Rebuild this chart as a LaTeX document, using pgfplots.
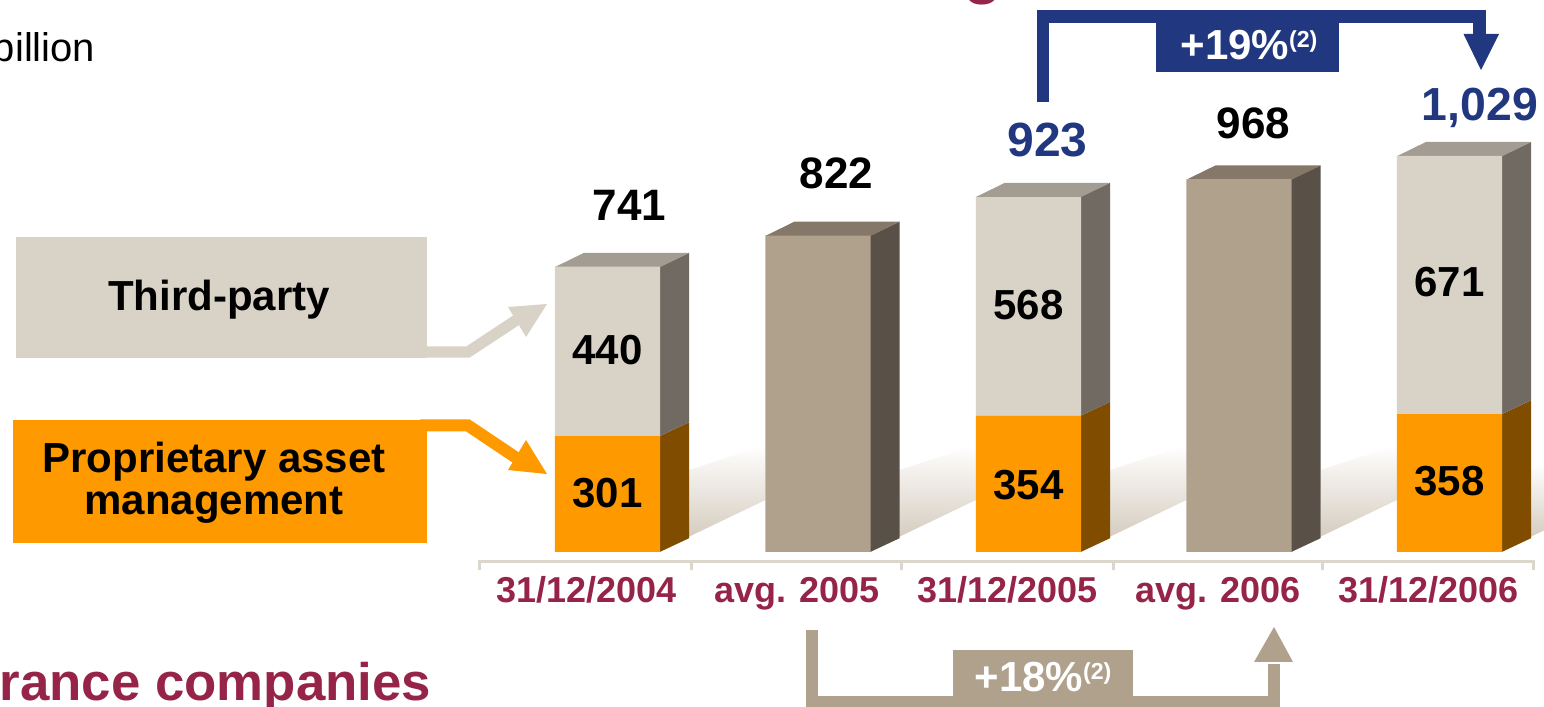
\documentclass[border=0pt]{standalone}
\usepackage{fontspec}
\setmainfont{Liberation Sans}
\usepackage{pgfplots}
\pgfplotsset{compat=1.18}
\definecolor{orangeF}{RGB}{255,153,0}
\definecolor{orangeS}{RGB}{128,77,0}
\definecolor{beigeF}{RGB}{217,210,198}
\definecolor{beigeS}{RGB}{112,106,99}
\definecolor{beigeT}{RGB}{163,156,146}
\definecolor{taupeF}{RGB}{176,161,141}
\definecolor{taupeS}{RGB}{89,80,71}
\definecolor{taupeT}{RGB}{133,120,104}
\definecolor{navy}{RGB}{33,56,128}
\definecolor{wine}{RGB}{150,36,72}
\definecolor{axisc}{RGB}{221,214,203}
\definecolor{shadowc}{RGB}{214,205,192}
\pgfplotsset{base/.style={width=386pt,height=176.75pt,scale only axis,
  xmin=-2.886,xmax=4.4489,ymin=-402.6,ymax=1433.77,hide axis,clip=false,
  at={(0pt,0pt)},anchor=south west,no markers}}
\newcommand\fs[1]{\fontsize{#1}{#1}\selectfont\bfseries}
\newcommand\supnote{\raisebox{3.1pt}{\fontsize{5.8}{5.8}\selectfont(2)}}
\begin{document}
\begin{tikzpicture}
% ---------- background: shadows, 3D faces, baseline ----------
\begin{axis}[base]
\addplot[draw=none,top color=white,bottom color=shadowc] coordinates {(0.388,40)(0.75,135)(0.75,278)(0.388,213)};
\addplot[draw=none,top color=white,bottom color=shadowc] coordinates {(1.388,40)(1.75,135)(1.75,278)(1.388,213)};
\addplot[draw=none,top color=white,bottom color=shadowc] coordinates {(2.388,40)(2.75,135)(2.75,278)(2.388,213)};
\addplot[draw=none,top color=white,bottom color=shadowc] coordinates {(3.388,40)(3.75,135)(3.75,278)(3.388,213)};
\addplot[draw=none,top color=white,bottom color=shadowc] coordinates {(4.388,40)(4.449,56)(4.449,229)(4.388,213)};
% bar 0
\addplot[draw=none,fill=orangeS] coordinates {(0.248,0)(0.388,36)(0.388,337)(0.248,301)};
\addplot[draw=none,fill=beigeS] coordinates {(0.248,301)(0.388,337)(0.388,777)(0.248,741)};
\addplot[draw=none,fill=beigeT] coordinates {(-0.25,740)(0.25,740)(0.388,777)(-0.112,777)};
% bar 1
\addplot[draw=none,fill=taupeS] coordinates {(1.248,0)(1.388,36)(1.388,858)(1.248,822)};
\addplot[draw=none,fill=taupeT] coordinates {(0.75,821)(1.25,821)(1.388,858)(0.888,858)};
% bar 2
\addplot[draw=none,fill=orangeS] coordinates {(2.248,0)(2.388,36)(2.388,390)(2.248,354)};
\addplot[draw=none,fill=beigeS] coordinates {(2.248,354)(2.388,390)(2.388,959)(2.248,923)};
\addplot[draw=none,fill=beigeT] coordinates {(1.75,922)(2.25,922)(2.388,959)(1.888,959)};
% bar 3
\addplot[draw=none,fill=taupeS] coordinates {(3.248,0)(3.388,36)(3.388,1004)(3.248,968)};
\addplot[draw=none,fill=taupeT] coordinates {(2.75,967)(3.25,967)(3.388,1004)(2.888,1004)};
% bar 4
\addplot[draw=none,fill=orangeS] coordinates {(4.248,0)(4.388,36)(4.388,394)(4.248,358)};
\addplot[draw=none,fill=beigeS] coordinates {(4.248,358)(4.388,394)(4.388,1065)(4.248,1029)};
\addplot[draw=none,fill=beigeT] coordinates {(3.75,1028)(4.25,1028)(4.388,1065)(3.888,1065)};
% baseline with separators
\addplot[color=axisc,line width=0.75pt,line join=miter] coordinates {(-0.606,-46.8)(-0.606,-24.7)(0.397,-24.7)(0.397,-46.8)(0.397,-24.7)(1.397,-24.7)(1.397,-46.8)(1.397,-24.7)(2.406,-24.7)(2.406,-46.8)(2.406,-24.7)(3.399,-24.7)(3.399,-46.8)(3.399,-24.7)(4.401,-24.7)(4.401,-46.8)};
\end{axis}
% ---------- bars ----------
\begin{axis}[base,ybar stacked,bar width=0.5]
\addplot[draw=none,fill=orangeF] coordinates {(0,301)(1,0)(2,354)(3,0)(4,358)};
\addplot[draw=none,fill=beigeF] coordinates {(0,440)(1,0)(2,568)(3,0)(4,671)};
\addplot[draw=none,fill=taupeF] coordinates {(0,0)(1,822)(2,0)(3,968)(4,0)};
\end{axis}
% ---------- value and category labels ----------
\begin{axis}[base]
\node[font=\fs{10.5}] at (axis cs:0,153) {301};
\node[font=\fs{10.5}] at (axis cs:0,525) {440};
\node[font=\fs{10.5}] at (axis cs:2,174) {354};
\node[font=\fs{10.5}] at (axis cs:2,642) {568};
\node[font=\fs{10.5}] at (axis cs:4,184) {358};
\node[font=\fs{10.5}] at (axis cs:4,701) {671};
\node[font=\fs{11}, anchor=base] at (axis cs:0.104,862) {741};
\node[font=\fs{11}, anchor=base] at (axis cs:1.088,945) {822};
\node[font=\fs{12}, anchor=base, text=navy] at (axis cs:2.09,1026) {923};
\node[font=\fs{11}, anchor=base] at (axis cs:3.069,1075) {968};
\node[font=\fs{11.6}, anchor=base, text=navy] at (axis cs:4.145,1122) {1,029};
\node[font=\fs{9}, anchor=base, text=wine] at (axis cs:-0.1,-130) {31/12/2004};
\node[font=\fs{9}, anchor=base, text=wine] at (axis cs:0.9,-130) {avg. 2005};
\node[font=\fs{9}, anchor=base, text=wine] at (axis cs:1.9,-130) {31/12/2005};
\node[font=\fs{9}, anchor=base, text=wine] at (axis cs:2.9,-130) {avg. 2006};
\node[font=\fs{9}, anchor=base, text=wine] at (axis cs:3.9,-130) {31/12/2006};
\end{axis}
% ---------- annotations (pixel coordinates) ----------
\begin{scope}[x=0.25pt,y=-0.25pt,shift={(0pt,176.75pt)}]
% legend boxes
\fill[beigeF] (16,237) rectangle (427,358);
\draw[beigeF,line width=2.8pt,line join=miter] (420,352) -- (468,352) -- (518,319);
\fill[beigeF] (508,307) -- (547,304) -- (526,337) -- cycle;
\node[font=\fs{10.5},anchor=base] at (219,311) {Third-party};
\fill[orangeF] (13,420) rectangle (427,543);
\draw[orangeF,line width=3pt,line join=miter] (420,425.5) -- (468,425.5) -- (518,459);
\fill[orangeF] (508,470) -- (547,474) -- (526,440) -- cycle;
\node[font=\fs{10.5},anchor=base] at (214,473) {Proprietary asset};
\node[font=\fs{10.5},anchor=base] at (214,515) {management};
% top growth arrow
\draw[navy,line width=3.1pt,line join=miter] (1043,102) -- (1043,16.7) -- (1479.5,16.7) -- (1479.5,36);
\fill[navy] (1463.5,34) -- (1499,34) -- (1481,70) -- cycle;
\fill[navy] (1156,16) rectangle (1338.5,72);
\node[font=\fs{10.5},anchor=base,text=white] at (1249,60) {+19\%\supnote};
% bottom growth arrow
\draw[taupeF,line width=3pt,line join=miter] (812,630) -- (812,702) -- (1274,702) -- (1274,664);
\fill[taupeF] (1254,662) -- (1293,662) -- (1274,627) -- cycle;
\fill[taupeF] (953,650) rectangle (1133,702);
\node[font=\fs{10.5},anchor=base,text=white] at (1043,692) {+18\%\supnote};
% cut-off texts
\node[font=\fontsize{10}{10}\selectfont,anchor=base east,inner sep=0pt] at (96,62) {billion};
\node[font=\fs{13.2},anchor=base east,inner sep=0pt,text=wine] at (432,701) {rance companies};
\node[font=\fs{16},anchor=base,inner sep=0pt,text=wine] at (983,-8) {g};
\end{scope}
\pgfresetboundingbox
\path[use as bounding box] (0pt,0pt) rectangle (386pt,176.75pt);
\end{tikzpicture}
\end{document}
